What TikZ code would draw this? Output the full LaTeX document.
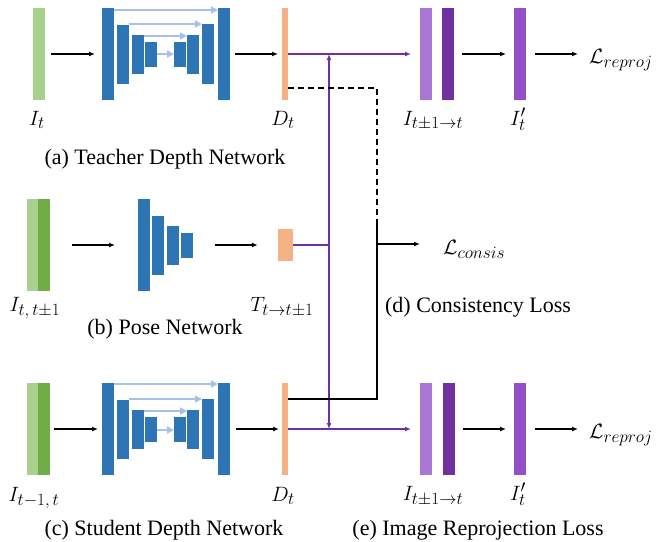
\documentclass[tikz,border=0pt]{standalone}
\usepackage{fontspec}
\setmainfont{Liberation Serif}
\usepackage{tikz}
\usetikzlibrary{arrows.meta, positioning, calc}
\DeclareMathSizes{21}{21}{16}{12}

\definecolor{netblue}{HTML}{2E75B6}
\definecolor{skipblue}{HTML}{A9C1E8}
\definecolor{lightgreen}{HTML}{A9D18E}
\definecolor{darkgreen}{HTML}{70AD47}
\definecolor{depthorange}{HTML}{F4B183}
\definecolor{lightpurple}{HTML}{A977D5}
\definecolor{darkpurple}{HTML}{7030A0}
\definecolor{midpurple}{HTML}{944FC9}

\begin{document}
\begin{tikzpicture}[
    x=1pt, y=-1pt,
    font=\fontsize{22}{26}\selectfont,
    blk/.style={fill=netblue, minimum width=12pt, inner sep=0pt, outer sep=0pt},
    feat/.style={minimum width=12pt, minimum height=92pt, inner sep=0pt, outer sep=0pt},
    sym/.style={font=\fontsize{21}{25}\selectfont, inner sep=0pt, anchor=base},
    caption/.style={inner sep=0pt, anchor=base},
    arrow/.style={-{Latex[length=6pt,width=5pt]}, line width=1.3pt},
    skip/.style={draw=skipblue, line width=2.5pt, -{Triangle[length=7pt,width=7pt]}},
    flow/.style={draw=darkpurple, line width=1.3pt},
    flowarrow/.style={flow, -{Latex[length=6pt,width=5pt]}}
]
    \useasboundingbox (0,0) rectangle (658,541);

    % teacher depth network
    \node (It) [feat, fill=lightgreen] at (39,54) {};
    \foreach \x/\h [count=\i] in {108/92,123/59,138/39,151/25,180/25,193/39,208/60,224/92}
        \node (t\i) [blk, minimum height=\h pt] at (\x,54) {};
    \foreach \a/\b/\d in {1/8/44,2/7/30,3/6/18,4/5/0}
        \draw[skip] ([yshift=\d pt]t\a.east) -- ([yshift=\d pt]t\b.west);
    \node (Dt) [feat, fill=depthorange, minimum width=6pt] at (285,54) {};
    \draw[arrow, shorten <=6pt, shorten >=7pt] (It) -- (t1);
    \draw[arrow, shorten <=5pt, shorten >=4pt] (t8) -- (Dt);

    \node (Wt) [feat, fill=lightpurple] at (426,54) {};
    \node (Vt) [feat, fill=darkpurple] at (448,54) {};
    \node (Rt) [feat, fill=midpurple] at (520,54) {};
    \coordinate (Lte) at (578,54);
    \node (Lt) [sym, anchor=base west] at (589,63) {$\mathcal{L}_{reproj}$};
    \draw[arrow, shorten <=8pt, shorten >=8pt] (Vt) -- (Rt);
    \draw[arrow, shorten <=9pt] (Rt) -- (Lte);
    \draw[flowarrow, shorten >=9pt] (Dt) -- (Wt);

    \node (lIt) [sym] at (37,125) {$I_t$};
    \node (lDt) [sym] at (283,125) {$D_t$};
    \node (lWt) [sym] at (433,125) {$I_{t\pm1\rightarrow t}$};
    \node (lRt) [sym] at (518,125) {$I'_t$};
    \node (capa) [caption] at (165,164) {(a) Teacher Depth Network};

    % pose network
    \node (Pa) [feat, fill=lightgreen, minimum width=11pt] at (32.5,245) {};
    \node (Pb) [feat, fill=darkgreen] at (44,245) {};
    \foreach \x/\h [count=\i] in {144/92,158/59,173/39,187/25}
        \node (p\i) [blk, minimum height=\h pt] at (\x,245) {};
    \node (T) [fill=depthorange, minimum width=15pt, minimum height=32pt, inner sep=0pt] at (285.5,245) {};
    \draw[arrow, shorten <=22pt, shorten >=23pt] (Pb) -- (p1);
    \draw[arrow, shorten <=22pt, shorten >=20pt] (p4) -- (T);

    \node (lP) [sym] at (35,311) {$I_{t,\,t\pm1}$};
    \node (lT) [sym] at (282,311) {$T_{t\rightarrow t\pm1}$};
    \node (capb) [caption] at (165,334) {(b) Pose Network};

    % student depth network
    \node (Sa) [feat, fill=lightgreen, minimum width=11pt] at (32.5,429) {};
    \node (Sb) [feat, fill=darkgreen] at (44,429) {};
    \foreach \x/\h [count=\i] in {108/92,123/59,138/39,151/25,180/25,193/39,208/60,224/92}
        \node (s\i) [blk, minimum height=\h pt] at (\x,429) {};
    \foreach \a/\b/\d in {1/8/45,2/7/30,3/6/18,4/5/-1}
        \draw[skip] ([yshift=\d pt]s\a.east) -- ([yshift=\d pt]s\b.west);
    \node (Ds) [feat, fill=depthorange, minimum width=6pt] at (285,429) {};
    \draw[arrow, shorten <=4pt, shorten >=4pt] (Sb) -- (s1);
    \draw[arrow, shorten <=6pt, shorten >=3pt] (s8) -- (Ds);

    \node (Ws) [feat, fill=lightpurple] at (426,429) {};
    \node (Vs) [feat, fill=darkpurple] at (449,429) {};
    \node (Rs) [feat, fill=midpurple] at (520,429) {};
    \coordinate (Lse) at (578,429);
    \node (Ls) [sym, anchor=base west] at (589,438) {$\mathcal{L}_{reproj}$};
    \draw[arrow, shorten <=8pt, shorten >=8pt] (Vs) -- (Rs);
    \draw[arrow, shorten <=9pt] (Rs) -- (Lse);
    \draw[flowarrow, shorten >=9pt] (Ds) -- (Ws);

    \node (lSa) [sym] at (34,501) {$I_{t-1,\,t}$};
    \node (lDs) [sym] at (283,501) {$D_t$};
    \node (lWs) [sym] at (433,500) {$I_{t\pm1\rightarrow t}$};
    \node (lRs) [sym] at (518,500) {$I'_t$};
    \node (capc) [caption] at (164,535) {(c) Student Depth Network};
    \node (cape) [caption] at (478,535) {(e) Image Reprojection Loss};

    % pose to image warping
    \coordinate (pj) at (329,245);
    \draw[flow] (T.east) -- (pj);
    \draw[flowarrow] (pj) -- (pj |- Dt.east);
    \draw[flowarrow] (pj) -- (pj |- Ds.east);

    % consistency loss
    \coordinate (cj) at (377,223);
    \coordinate (ca) at (377,244);
    \coordinate (cae) at (420,244);
    \draw[line width=1.3pt, dash pattern=on 6pt off 4pt] ([yshift=-34pt]Dt.east) -| (cj);
    \draw[line width=1.3pt] ([yshift=30pt]Ds.east) -| (cj);
    \draw[arrow] (ca) -- (cae);
    \node (Lc) [sym, anchor=base west] at (443,254) {$\mathcal{L}_{consis}$};
    \node (capd) [caption] at (478,312) {(d) Consistency Loss};
\end{tikzpicture}
\end{document}
